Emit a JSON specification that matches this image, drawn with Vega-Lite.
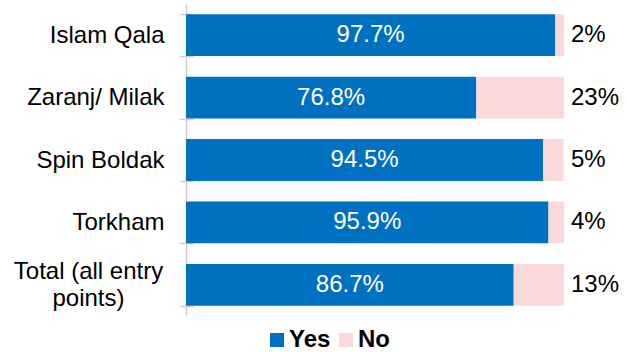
{
  "$schema": "https://vega.github.io/schema/vega-lite/v6.json",
  "width": 378,
  "height": 312,
  "autosize": {"type": "none"},
  "padding": {"left": 186, "top": 4, "right": 63, "bottom": 36},
  "background": "white",
  "config": {"view": {"stroke": null}, "font": "Liberation Sans"},
  "data": {
    "values": [
      {"entry": "Islam Qala", "answer": "Yes", "value": 0.977},
      {"entry": "Islam Qala", "answer": "No", "value": 0.023},
      {"entry": "Zaranj/ Milak", "answer": "Yes", "value": 0.768},
      {"entry": "Zaranj/ Milak", "answer": "No", "value": 0.232},
      {"entry": "Spin Boldak", "answer": "Yes", "value": 0.945},
      {"entry": "Spin Boldak", "answer": "No", "value": 0.054},
      {"entry": "Torkham", "answer": "Yes", "value": 0.959},
      {"entry": "Torkham", "answer": "No", "value": 0.041},
      {"entry": "Total (all entry points)", "answer": "Yes", "value": 0.867},
      {"entry": "Total (all entry points)", "answer": "No", "value": 0.133}
    ]
  },
  "encoding": {
    "y": {
      "field": "entry",
      "type": "nominal",
      "sort": ["Islam Qala", "Zaranj/ Milak", "Spin Boldak", "Torkham", "Total (all entry points)"],
      "scale": {"paddingInner": 0.33, "paddingOuter": 0.165},
      "axis": {
        "title": null,
        "domain": false,
        "tickBand": "extent",
        "tickSize": 14,
        "offset": -7,
        "tickColor": "#D0D0D0",
        "tickWidth": 1.5,
        "labelFontSize": 24,
        "labelColor": "black",
        "labelFont": "Liberation Sans",
        "labelLimit": 300,
        "labelLineHeight": 27,
        "labelPadding": {"condition": {"test": "datum.value == 'Total (all entry points)'", "value": 91}, "value": 15},
        "labelAlign": {"condition": {"test": "datum.value == 'Total (all entry points)'", "value": "center"}, "value": "right"},
        "labelOffset": {"condition": {"test": "datum.value == 'Total (all entry points)'", "value": -13}, "value": 0},
        "labelExpr": "datum.value == 'Total (all entry points)' ? ['Total (all entry', 'points)'] : datum.value"
      }
    }
  },
  "layer": [
    {
      "mark": {"type": "bar"},
      "encoding": {
        "x": {
          "field": "value",
          "type": "quantitative",
          "stack": "zero",
          "scale": {"domain": [0, 1], "nice": false},
          "axis": {"grid": true, "values": [0], "gridColor": "#D0D0D0", "gridWidth": 1.5, "labels": false, "ticks": false, "domain": false, "title": null}
        },
        "color": {
          "field": "answer",
          "type": "nominal",
          "scale": {"domain": ["Yes", "No"], "range": ["#0070C0", "#F9D9DC"]},
          "legend": {
            "orient": "none",
            "legendX": 79,
            "legendY": 324,
            "direction": "horizontal",
            "title": null,
            "symbolType": "square",
            "symbolSize": 196,
            "symbolStrokeWidth": 0,
            "labelFontSize": 24,
            "labelFontWeight": "bold",
            "labelColor": "black",
            "labelFont": "Liberation Sans",
            "labelOffset": 0,
            "columnPadding": 3
          }
        },
        "order": {"field": "answer", "sort": "descending"}
      }
    },
    {
      "transform": [{"filter": "datum.answer == 'Yes'"}],
      "mark": {"type": "text", "color": "white", "fontSize": 24, "align": "center", "baseline": "middle", "font": "Liberation Sans"},
      "encoding": {
        "x": {"field": "value", "type": "quantitative", "scale": {"domain": [0, 2], "nice": false}, "axis": null},
        "text": {"field": "value", "type": "quantitative", "format": ".1%"}
      }
    },
    {
      "transform": [{"filter": "datum.answer == 'No'"}],
      "mark": {"type": "text", "color": "black", "fontSize": 24, "align": "left", "baseline": "middle", "dx": 7, "font": "Liberation Sans"},
      "encoding": {
        "x": {"datum": 1, "type": "quantitative", "scale": {"domain": [0, 1], "nice": false}, "axis": null},
        "text": {"field": "value", "type": "quantitative", "format": ".0%"}
      }
    }
  ],
  "resolve": {"scale": {"x": "independent"}}
}
